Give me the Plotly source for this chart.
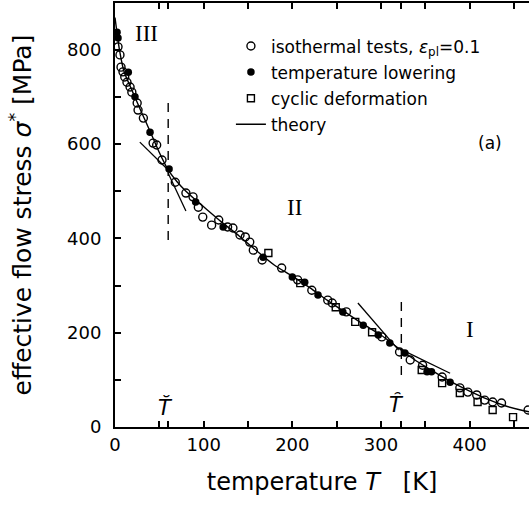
import plotly.graph_objects as go

# ---- data ----
iso_T = [3.4, 5.6, 6.8, 9, 11, 13.5, 17, 19, 25, 26, 32, 43, 47, 53, 68, 80, 88, 94, 99, 109,
         117, 127, 133, 141, 147, 152, 156, 166, 188, 206, 222, 240, 245, 261, 301, 321, 333,
         347, 369, 389, 398, 408, 417, 426, 436, 466]
iso_S = [806, 789, 763, 753, 742, 731, 721, 710, 687, 672, 655, 602, 598, 566, 519, 496, 488,
         466, 445, 428, 439, 424, 422, 407, 403, 392, 375, 354, 337, 312, 290, 269, 263, 244,
         191, 159, 142, 131, 106, 83, 74, 68, 57, 53, 51, 36]

low_T = [2.3, 3.4, 15, 22.5, 39.5, 61, 91, 122, 167, 200, 214, 229, 257, 280, 297, 310, 327,
         352, 357, 378]
low_S = [837, 825, 752, 700, 625, 547, 477, 424, 360, 318, 307, 280, 244, 216, 195, 178, 157,
         117, 117, 95]

cyc_T = [173, 209, 249, 271, 290, 346, 369, 389, 409, 426, 449]
cyc_S = [369, 305, 254, 223, 201, 121, 93, 72, 53, 36, 21]

theory_T = [0, 5, 10, 20, 30, 40, 50, 60, 70, 80, 90, 100, 120, 140, 160, 180, 200, 220, 240,
            260, 280, 300, 320, 340, 360, 380, 400, 420, 440, 460, 470]
theory_S = [868, 800, 755, 710, 667, 625, 582, 545, 520, 500, 483, 467, 435, 405, 373, 343,
            320, 295, 268, 243, 218, 195, 167, 140, 117, 95, 76, 59, 45, 35, 31]

# tangent (branch-extension) segments, separated by None
tan_T = [28, 60, None, 60, 80, None, 274, 320, None, 322, 378]
tan_S = [604, 545, None, 538, 458, None, 263, 163, None, 165, 114]

# characteristic temperatures and dashed-line extents
T_check, T_hat = 60, 323
dash1_S = [687, 382]
dash2_S = [265, 100]

x_major = [0, 100, 200, 300, 400]
x_minor = [50, 150, 250, 350, 450]
y_major = [0, 200, 400, 600, 800]
y_minor = [100, 300, 500, 700]

FONT = "DejaVu Sans"
SERIF = "Liberation Serif"

fig = go.Figure()

fig.add_trace(go.Scatter(
    x=iso_T, y=iso_S, mode="markers", name="isothermal tests, <i>ε</i><sub>pl</sub>=0.1",
    legendgroup="a",
    marker=dict(symbol="circle-open", size=8, color="black", line=dict(width=1.4))))
fig.add_trace(go.Scatter(
    x=low_T, y=low_S, mode="markers", name="temperature lowering", legendgroup="b",
    marker=dict(symbol="circle", size=7.5, color="black")))
fig.add_trace(go.Scatter(
    x=cyc_T, y=cyc_S, mode="markers", name="cyclic deformation", legendgroup="c",
    marker=dict(symbol="square-open", size=7, color="black", line=dict(width=1.4))))
fig.add_trace(go.Scatter(
    x=theory_T, y=theory_S, mode="lines", name="theory", legendgroup="d",
    line=dict(color="black", width=1.4, shape="spline", smoothing=0.6)))
fig.add_trace(go.Scatter(
    x=tan_T, y=tan_S, mode="lines", showlegend=False,
    line=dict(color="black", width=1.3)))
fig.add_trace(go.Scatter(
    x=[T_check, T_check], y=dash1_S, mode="lines", showlegend=False,
    line=dict(color="black", width=1.4, dash="9px,7px")))
fig.add_trace(go.Scatter(
    x=[T_hat, T_hat], y=dash2_S, mode="lines", showlegend=False,
    line=dict(color="black", width=1.4, dash="9px,7px")))

annotations = [
    dict(x=36, y=835, text="III", font=dict(family=SERIF, size=23)),
    dict(x=203, y=466, text="II", font=dict(family=SERIF, size=23)),
    dict(x=400, y=206, text="I", font=dict(family=SERIF, size=23)),
    dict(x=423, y=602, text="(a)", font=dict(family=FONT, size=17)),
    dict(x=T_check - 3, y=42, text="<i>T\u0306</i>", font=dict(family=FONT, size=21)),
    dict(x=T_hat - 5, y=47, text="<i>T\u0311</i>", font=dict(family=FONT, size=21)),
]
for a in annotations:
    a.update(xref="x", yref="y", showarrow=False)

fig.update_layout(
    width=529, height=506,
    margin=dict(l=115, r=0, t=3, b=79),
    paper_bgcolor="white", plot_bgcolor="white",
    font=dict(family=FONT, color="black"),
    showlegend=True,
    legend=dict(x=0.28, y=0.94, xanchor="left", yanchor="top",
                font=dict(family=FONT, size=17), bgcolor="rgba(0,0,0,0)",
                traceorder="grouped", tracegroupgap=1, borderwidth=0),
    annotations=annotations,
)
fig.update_xaxes(
    range=[0, 467], showgrid=False, zeroline=False,
    showline=True, linecolor="black", linewidth=2, mirror="ticks",
    ticks="inside", ticklen=6, tickwidth=1.5, tickcolor="black",
    tickmode="array", tickvals=x_major,
    minor=dict(tickmode="array", tickvals=x_minor + [T_check, T_hat], ticks="inside",
               ticklen=6, tickwidth=1.5, tickcolor="black", showgrid=False),
    tickfont=dict(family=FONT, size=18),
    title=dict(text="temperature <i>T</i>\u00a0\u00a0\u00a0[K]",
               font=dict(family=FONT, size=24), standoff=20),
)
fig.update_yaxes(
    range=[0, 899], showgrid=False, zeroline=False,
    showline=True, linecolor="black", linewidth=2, mirror=False,
    ticks="inside", ticklen=6, tickwidth=1.5, tickcolor="black",
    tickmode="array", tickvals=y_major,
    minor=dict(tickmode="array", tickvals=y_minor, ticks="inside",
               ticklen=6, tickwidth=1.5, tickcolor="black", showgrid=False),
    tickfont=dict(family=FONT, size=18), ticklabelstandoff=8,
    title=dict(text="effective flow stress <i>σ</i><sup>*</sup> [MPa]",
               font=dict(family=FONT, size=25), standoff=28),
)

fig.write_html("out.html")
